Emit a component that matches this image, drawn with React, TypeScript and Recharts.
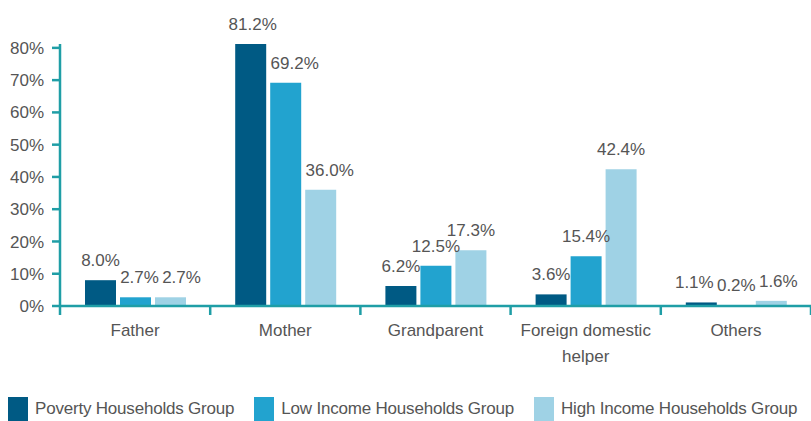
import React from 'react';
import { BarChart, Bar, XAxis, YAxis, LabelList } from 'recharts';

const categories = ['Father', 'Mother', 'Grandparent', 'Foreign domestic helper', 'Others'];
const poverty = [8.0, 81.2, 6.2, 3.6, 1.1];
const lowIncome = [2.7, 69.2, 12.5, 15.4, 0.2];
const highIncome = [2.7, 36.0, 17.3, 42.4, 1.6];
const yTicks = [0, 10, 20, 30, 40, 50, 60, 70, 80];

const seriesNames = ['Poverty Households Group', 'Low Income Households Group', 'High Income Households Group'];
const seriesKeys = ['poverty', 'low', 'high'];
const colors = ['#005a84', '#22a3cf', '#9fd2e5'];

// small horizontal nudges so neighbouring value labels don't collide
const labelNudge: Record<string, number[]> = {
  poverty: [0, 2, 0, 0, -7],
  low: [4, 9, 0, 0, 0],
  high: [11, 9, 0, 0, 7],
};

const AXIS = '#1f9ea6';
const TEXT = '#555555';
const FONT = '"Liberation Sans", Arial, sans-serif';

const data = categories.map((name, i) => ({
  name,
  poverty: poverty[i],
  low: lowIncome[i],
  high: highIncome[i],
}));

// wrap long category names into lines of at most 16 chars
function wrap(label: string, max = 16) {
  const lines: string[] = [];
  let cur = '';
  label.split(' ').forEach(w => {
    const next = cur ? cur + ' ' + w : w;
    if (next.length > max && cur) {
      lines.push(cur);
      cur = w;
    } else cur = next;
  });
  if (cur) lines.push(cur);
  return lines;
}

const CategoryTick = (props: any) => {
  const { x, y, payload, width, visibleTicksCount, index } = props;
  const half = width / visibleTicksCount / 2;
  const axisY = y - 8;
  const lines = wrap(String(payload.value));
  return (
    <g>
      <line x1={x - half} x2={x - half} y1={axisY} y2={axisY + 9} stroke={AXIS} strokeWidth={2.5} />
      {index === visibleTicksCount - 1 && (
        <line x1={x + half} x2={x + half} y1={axisY} y2={axisY + 9} stroke={AXIS} strokeWidth={2.5} />
      )}
      <text x={x} y={y} textAnchor="middle" fill={TEXT} fontSize={17} fontFamily={FONT}>
        {lines.map((l, i) => (
          <tspan key={i} x={x} dy={i === 0 ? 22 : 26}>{l}</tspan>
        ))}
      </text>
    </g>
  );
};

const makeLabel = (key: string) => (props: any) => {
  const { x, y, width, value, index } = props;
  const dx = labelNudge[key][index] ?? 0;
  return (
    <text
      x={x + width / 2 + dx}
      y={y - 14}
      textAnchor="middle"
      fill={TEXT}
      fontSize={17}
      fontFamily={FONT}
    >
      {`${Number(value).toFixed(1)}%`}
    </text>
  );
};

export default function App() {
  return (
    <div style={{ position: 'absolute', left: 0, top: 0, width: 811, height: 421, background: '#fff', fontFamily: FONT, overflow: 'hidden' }}>
      <BarChart
        width={811}
        height={421}
        data={data}
        margin={{ top: 44, right: 0, left: 0, bottom: 85 }}
        barSize={31}
        barGap={4}
      >
        <XAxis
          dataKey="name"
          height={30}
          axisLine={{ stroke: AXIS, strokeWidth: 2.5 }}
          tickLine={false}
          tick={<CategoryTick />}
          interval={0}
        />
        <YAxis
          domain={[0, 80]}
          ticks={yTicks}
          width={60}
          tickFormatter={(v: number) => `${v}%`}
          axisLine={{ stroke: AXIS, strokeWidth: 2.5 }}
          tickLine={{ stroke: AXIS, strokeWidth: 2.5 }}
          tickSize={8}
          tickMargin={8}
          tick={{ fill: TEXT, fontSize: 17, fontFamily: FONT }}
        />
        {seriesKeys.map((k, i) => (
          <Bar key={k} dataKey={k} name={seriesNames[i]} fill={colors[i]} isAnimationActive={false}>
            <LabelList dataKey={k} content={makeLabel(k)} />
          </Bar>
        ))}
      </BarChart>
      <div style={{ position: 'absolute', left: 8, top: 397, display: 'flex', whiteSpace: 'nowrap', fontSize: 17, letterSpacing: -0.2, color: TEXT }}>
        {seriesNames.map((n, i) => (
          <div key={n} style={{ display: 'flex', alignItems: 'center', marginRight: 20 }}>
            <span style={{ display: 'inline-block', width: 20, height: 24, background: colors[i], marginRight: 7 }} />
            <span>{n}</span>
          </div>
        ))}
      </div>
    </div>
  );
}
